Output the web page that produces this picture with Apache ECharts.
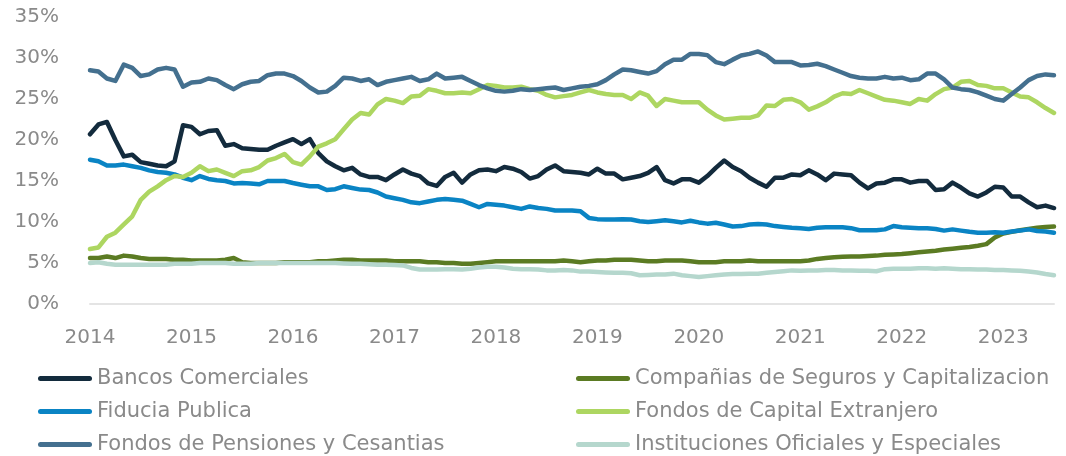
<!DOCTYPE html>
<html>
<head>
<meta charset="utf-8">
<script src="https://cdn.jsdelivr.net/npm/echarts@6/dist/echarts.min.js"></script>
<style>
  html, body { margin: 0; padding: 0; background: #fff; }
  #chart { width: 1066px; height: 456px; }
</style>
</head>
<body>
<div id="chart"></div>
<script>
// meses ene-2014 .. jul-2023
let months = [];
for (let y = 2014; y <= 2023; y++) {
  for (let m = 1; m <= 12; m++) {
    if (y === 2023 && m > 7) break;
    months.push(y + "-" + (m < 10 ? "0" + m : m));
  }
}
let yearLabels = ["2014", "2015", "2016", "2017", "2018", "2019", "2020", "2021", "2022", "2023"];

let bancos = [
  20.7, 21.9, 22.2, 20.0, 18.0, 18.2, 17.3, 17.1, 16.9, 16.8, 17.4, 21.8,
  21.6, 20.7, 21.1, 21.2, 19.3, 19.5, 19.0, 18.9, 18.8, 18.8, 19.3, 19.7,
  20.1, 19.5, 20.1, 18.4, 17.4, 16.8, 16.3, 16.6, 15.8, 15.5, 15.5, 15.1,
  15.8, 16.4, 15.9, 15.6, 14.7, 14.4, 15.5, 16.0, 14.8, 15.8, 16.3, 16.4,
  16.2, 16.7, 16.5, 16.1, 15.3, 15.6, 16.4, 16.9, 16.2, 16.1, 16.0, 15.8,
  16.5, 15.9, 15.9, 15.2, 15.4, 15.6, 16.0, 16.7, 15.1, 14.7, 15.2, 15.2,
  14.8, 15.6, 16.6, 17.5, 16.7, 16.2, 15.4, 14.8, 14.3, 15.4, 15.4, 15.8,
  15.7, 16.3, 15.8, 15.1, 15.9, 15.8, 15.7, 14.8, 14.1, 14.7, 14.8, 15.2,
  15.2, 14.8, 15.0, 15.0, 13.9, 14.0, 14.8, 14.2, 13.5, 13.1, 13.6, 14.3,
  14.2, 13.1, 13.1, 12.4, 11.8, 12.0, 11.7
];
let seguros = [
  5.6, 5.6, 5.8, 5.6, 5.9, 5.8, 5.6, 5.5, 5.5, 5.5, 5.4, 5.4,
  5.3, 5.3, 5.3, 5.3, 5.4, 5.6, 5.1, 5.0, 5.0, 5.0, 5.0, 5.1,
  5.1, 5.1, 5.1, 5.2, 5.2, 5.3, 5.4, 5.4, 5.3, 5.3, 5.3, 5.3,
  5.2, 5.2, 5.2, 5.2, 5.1, 5.1, 5.0, 5.0, 4.9, 4.9, 5.0, 5.1,
  5.2, 5.2, 5.2, 5.2, 5.2, 5.2, 5.2, 5.2, 5.3, 5.2, 5.1, 5.2,
  5.3, 5.3, 5.4, 5.4, 5.4, 5.3, 5.2, 5.2, 5.3, 5.3, 5.3, 5.2,
  5.1, 5.1, 5.1, 5.2, 5.2, 5.2, 5.3, 5.2, 5.2, 5.2, 5.2, 5.2,
  5.2, 5.3, 5.5, 5.6, 5.7, 5.75, 5.8, 5.8, 5.85, 5.9, 6.0, 6.05,
  6.1, 6.2, 6.3, 6.4, 6.5, 6.65, 6.75, 6.85, 6.95, 7.1, 7.3, 8.1,
  8.6, 8.8, 9.0, 9.15, 9.3, 9.4, 9.45
];
let fiducia = [
  17.6, 17.4, 16.9, 16.9, 17.0, 16.8, 16.6, 16.3, 16.1, 16.0, 15.8, 15.4,
  15.1, 15.6, 15.25, 15.1, 15.0, 14.7, 14.75, 14.7, 14.6, 15.0, 15.0, 15.0,
  14.75, 14.55, 14.35, 14.35, 13.9, 14.0, 14.35, 14.15, 13.95, 13.9, 13.6, 13.1,
  12.9, 12.7, 12.4, 12.3, 12.5, 12.7, 12.8, 12.7, 12.6, 12.2, 11.8, 12.2,
  12.1, 12.0, 11.8, 11.6, 11.9, 11.7, 11.6, 11.4, 11.4, 11.4, 11.3, 10.5,
  10.35, 10.3, 10.3, 10.35, 10.3, 10.1, 10.0, 10.1, 10.2, 10.1, 9.95, 10.15,
  9.95, 9.8, 9.9, 9.7, 9.45, 9.5, 9.7, 9.75, 9.7, 9.5, 9.4, 9.3,
  9.25, 9.15, 9.3, 9.35, 9.35, 9.35, 9.25, 9.0, 9.0, 9.0, 9.1, 9.5,
  9.35, 9.3, 9.25, 9.25, 9.15, 8.95, 9.1, 8.95, 8.8, 8.7, 8.7, 8.75,
  8.7, 8.85, 8.95, 9.1, 8.9, 8.85, 8.7
];
let capitalExt = [
  6.7, 6.9, 8.2, 8.7, 9.7, 10.7, 12.7, 13.7, 14.35, 15.1, 15.6, 15.5,
  16.0, 16.8, 16.2, 16.4, 16.0, 15.6, 16.2, 16.3, 16.7, 17.5, 17.8, 18.3,
  17.3, 17.0, 18.0, 19.2, 19.6, 20.1, 21.3, 22.5, 23.3, 23.1, 24.35, 25.0,
  24.8, 24.5, 25.3, 25.4, 26.2, 26.0, 25.7, 25.7, 25.8, 25.7, 26.2, 26.7,
  26.6, 26.4, 26.4, 26.5, 26.2, 26.0, 25.5, 25.2, 25.35, 25.5, 25.8, 26.1,
  25.8, 25.6, 25.5, 25.5, 25.0, 25.8, 25.4, 24.15, 25.0, 24.8, 24.6, 24.6,
  24.6, 23.7, 23.0, 22.5, 22.6, 22.7, 22.7, 23.0, 24.2, 24.15, 24.9, 25.0,
  24.6, 23.7, 24.1, 24.6, 25.3, 25.7, 25.6, 26.1, 25.7, 25.3, 24.9, 24.8,
  24.6, 24.4, 25.0, 24.8, 25.6, 26.2, 26.4, 27.1, 27.2, 26.7, 26.6, 26.3,
  26.3, 25.8, 25.3, 25.2, 24.6, 23.9, 23.3
];
let pensiones = [
  28.5, 28.35, 27.5, 27.2, 29.2, 28.8, 27.8, 28.0, 28.6, 28.8, 28.6, 26.5,
  27.0, 27.1, 27.5, 27.3, 26.7, 26.2, 26.8, 27.1, 27.2, 27.9, 28.1, 28.1,
  27.8, 27.2, 26.4, 25.8, 25.9, 26.6, 27.6, 27.5, 27.2, 27.4, 26.7, 27.1,
  27.3, 27.5, 27.7, 27.2, 27.4, 28.1, 27.5, 27.6, 27.7, 27.2, 26.7, 26.3,
  26.0, 25.9, 26.0, 26.2, 26.1, 26.2, 26.3, 26.4, 26.1, 26.3, 26.5, 26.6,
  26.8, 27.3, 28.0, 28.6, 28.5, 28.3, 28.1, 28.4, 29.25, 29.8, 29.8, 30.5,
  30.5, 30.35, 29.5, 29.25, 29.8, 30.3, 30.5, 30.8, 30.3, 29.5, 29.5, 29.5,
  29.1, 29.15, 29.3, 29.0, 28.6, 28.2, 27.8, 27.6, 27.5, 27.5, 27.7, 27.5,
  27.6, 27.3, 27.4, 28.1, 28.1, 27.4, 26.4, 26.2, 26.1, 25.8, 25.4, 25.0,
  24.8, 25.6, 26.4, 27.3, 27.8, 28.0, 27.9
];
let oficiales = [
  5.0, 5.1, 4.9, 4.8, 4.8, 4.8, 4.8, 4.8, 4.8, 4.8, 4.9, 4.9,
  4.9, 5.0, 5.0, 5.0, 5.0, 4.9, 4.9, 4.9, 5.0, 5.0, 5.0, 5.0,
  5.0, 5.0, 5.0, 5.0, 5.0, 5.0, 4.95, 4.9, 4.9, 4.85, 4.8, 4.8,
  4.75, 4.7, 4.4, 4.2, 4.2, 4.2, 4.25, 4.25, 4.2, 4.3, 4.45, 4.55,
  4.55, 4.45, 4.3, 4.25, 4.25, 4.2, 4.1, 4.1, 4.15, 4.1, 3.95, 3.95,
  3.9, 3.85, 3.8, 3.8, 3.75, 3.5, 3.55, 3.6, 3.6, 3.7, 3.5, 3.4,
  3.3, 3.4, 3.5, 3.6, 3.65, 3.65, 3.7, 3.7, 3.8, 3.9, 4.0, 4.1,
  4.05, 4.1, 4.1, 4.15, 4.15, 4.1, 4.1, 4.05, 4.05, 4.0, 4.25, 4.3,
  4.3, 4.3, 4.35, 4.35, 4.3, 4.35, 4.3, 4.25, 4.25, 4.2, 4.2, 4.15,
  4.15, 4.1, 4.05, 3.95, 3.85, 3.65, 3.5
];

let names = [
  "Bancos Comerciales",
  "Compañias de Seguros y Capitalizacion",
  "Fiducia Publica",
  "Fondos de Capital Extranjero",
  "Fondos de Pensiones y Cesantias",
  "Instituciones Oficiales y Especiales",
];
let values = [bancos, seguros, fiducia, capitalExt, pensiones, oficiales];
let colors = ["#132b3d", "#5b7b23", "#0a84c4", "#add661", "#44708f", "#b5d7cd"];

let font = "DejaVu Sans";
let grey = "#8a8a8a";
let pill = "path://M2.5,0 H51.5 A2.5,2.5 0 0 1 51.5,5 H2.5 A2.5,2.5 0 0 1 2.5,0 Z";

let seriesData = names.map((name, index) => {
  return {
    name: name,
    type: "line",
    data: values[index],
    symbol: "none",
    smooth: false,
    itemStyle: { color: colors[index] },
    lineStyle: { color: colors[index], width: 4.5, cap: "round", join: "round" },
  };
});

let legendBase = {
  orient: "vertical",
  top: 368,
  height: 88,
  padding: 0,
  icon: pill,
  itemWidth: 54,
  itemHeight: 5,
  itemGap: 12,
  textStyle: { fontFamily: font, fontSize: 21, lineHeight: 20, color: grey },
};

let myChart = echarts.init(document.getElementById("chart"));
let option = {
  animation: false,
  grid: { left: 90, right: 12, top: 17, bottom: 152 },
  legend: [
    Object.assign({}, legendBase, { left: 38, data: [names[0], names[2], names[4]] }),
    Object.assign({}, legendBase, { left: 576, data: [names[1], names[3], names[5]] }),
  ],
  xAxis: {
    type: "category",
    boundaryGap: false,
    data: months,
    axisTick: { show: false },
    axisLine: { lineStyle: { color: "#e4e4e4", width: 2 } },
    axisLabel: {
      interval: 11,
      margin: 24,
      fontFamily: font,
      fontSize: 20,
      color: grey,
      formatter: (v) => yearLabels[yearLabels.indexOf(v.slice(0, 4))],
    },
  },
  yAxis: {
    type: "value",
    min: 0,
    max: 35,
    interval: 5,
    splitLine: { show: false },
    axisLine: { show: false },
    axisTick: { show: false },
    axisLabel: {
      margin: 31,
      fontFamily: font,
      fontSize: 20,
      color: grey,
      formatter: "{value}%",
    },
  },
  series: seriesData,
};
myChart.setOption(option);
</script>
</body>
</html>
